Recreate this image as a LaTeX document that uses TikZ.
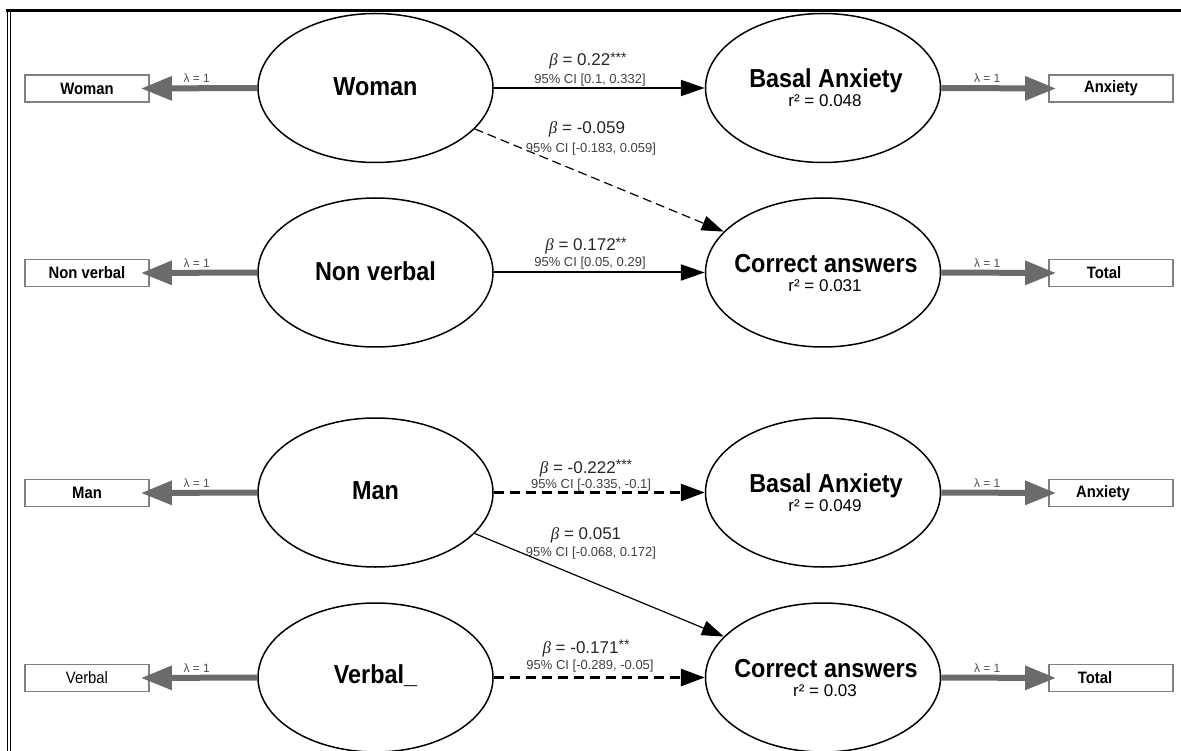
\documentclass[tikz,border=0pt]{standalone}
\usepackage{fontspec}
\setmainfont{Liberation Sans}
\newfontfamily\serifgreek{Liberation Serif}
\newfontfamily\cond[FakeStretch=0.9]{Liberation Sans}
\usetikzlibrary{arrows.meta,shapes.geometric,calc}
\definecolor{arrowgray}{HTML}{6B6B6B}
\definecolor{boxgray}{HTML}{808080}
\definecolor{lamgray}{HTML}{505050}
\definecolor{cigray}{HTML}{404040}
\newcommand\bet{{\serifgreek\itshape β}}
\newcommand\stars[1]{{\fontsize{14}{14}\selectfont\raisebox{3.5pt}{#1}}}
\begin{document}
\begin{tikzpicture}[x=1pt,y=-1pt,
  lat/.style={ellipse, draw=black, line width=1.5pt, minimum width=235pt, minimum height=149pt, inner sep=0pt},
  obs/.style={rectangle, draw=boxgray, line width=1.8pt, fill=white, minimum width=124pt, minimum height=27pt, inner sep=0pt, font=\cond\fontsize{16.5}{16.5}\selectfont\bfseries},
  obsreg/.style={obs, font=\cond\fontsize{16.5}{16.5}\selectfont},
  garrow/.style={draw=arrowgray, line width=6pt, -{Triangle[length=31pt,width=23pt]}},
  lam/.style={font=\fontsize{12}{12}\selectfont, text=lamgray, inner sep=0pt},
  ttlL/.style={font=\cond\fontsize{26}{26}\selectfont\bfseries, anchor=base, inner sep=0pt},
  ttlR/.style={font=\cond\fontsize{26}{26}\selectfont\bfseries, anchor=base, inner sep=0pt},
  rsq/.style={font=\fontsize{17}{17}\selectfont, anchor=base, inner sep=0pt},
  betalab/.style={font=\fontsize{17}{17}\selectfont, anchor=base, inner sep=0pt, text=black!85},
  cilab/.style={font=\fontsize{13}{13}\selectfont, anchor=base, inner sep=0pt, text=cigray},
  spath/.style={line width=2pt, -{Triangle[length=24pt,width=16pt]}},
  thindash/.style={line width=1.2pt, dash pattern=on 9pt off 5pt, -{Triangle[length=22pt,width=15pt]}},
  thickdash/.style={line width=2.8pt, dash pattern=on 10pt off 6pt, -{Triangle[length=24pt,width=17pt]}},
  thinsolid/.style={line width=1.2pt, -{Triangle[length=22pt,width=15pt]}}
]
\useasboundingbox (0,0) rectangle (1181,751);

% frame
\draw[line width=3pt] (6,11) -- (1181,11);
\draw[line width=1pt] (7.5,11) -- (7.5,751);
\draw[line width=1pt] (10.5,11) -- (10.5,751);

% latent ellipses
\node[lat] (W)   at (375.5,88) {};
\node[lat] (NV)  at (375.5,272.5) {};
\node[lat] (M)   at (375.5,492.5) {};
\node[lat] (V)   at (375.5,677.5) {};
\node[lat] (BA1) at (823,88) {};
\node[lat] (CA1) at (823,272.5) {};
\node[lat] (BA2) at (823,492.5) {};
\node[lat] (CA2) at (823,677.5) {};

% texts in ellipses
\node[ttlL] (Wt)  at ($(W)+(0,8)$) {Woman};
\node[ttlL] (NVt) at ($(NV)+(0,8)$) {Non verbal};
\node[ttlL] (Mt)  at ($(M)+(0,7)$) {Man};
\node[ttlL] (Vt)  at ($(V)+(0,6)$) {Verbal\_};
\node[ttlR] (BA1t) at ($(BA1)+(3,0)$) {Basal Anxiety};
\node[rsq]  (BA1r) at ($(BA1)+(2,19)$) {r² = 0.048};
\node[ttlR] (CA1t) at ($(CA1)+(3,0)$) {Correct answers};
\node[rsq]  (CA1r) at ($(CA1)+(2,19)$) {r² = 0.031};
\node[ttlR] (BA2t) at ($(BA2)+(3,0)$) {Basal Anxiety};
\node[rsq]  (BA2r) at ($(BA2)+(2,19)$) {r² = 0.049};
\node[ttlR] (CA2t) at ($(CA2)+(3,0)$) {Correct answers};
\node[rsq]  (CA2r) at ($(CA2)+(2,19)$) {r² = 0.03};

% observed boxes
\node[obs] (bW)  at (87,88.5) {Woman};
\node[obs] (bNV) at (87,273) {Non verbal};
\node[obs] (bM)  at (87,493) {Man};
\node[obsreg] (bV) at (87,678) {Verbal};
\node[obs] (bA1) at (1111,88.5) {Anxiety};
\node[obs] (bT1) at (1111,273) {Total\hspace*{14pt}};
\node[obs] (bA2) at (1111,493) {Anxiety\hspace*{16pt}};
\node[obs] (bT2) at (1111,678) {Total\hspace*{32pt}};

% loadings
\draw[garrow] (W.west) -- node[lam, pos=0.52, above=2.5pt] {λ = 1} ([xshift=-9pt]bW.east);
\draw[garrow] (NV.west) -- node[lam, pos=0.52, above=2.5pt] {λ = 1} ([xshift=-9pt]bNV.east);
\draw[garrow] (M.west) -- node[lam, pos=0.52, above=2.5pt] {λ = 1} ([xshift=-9pt]bM.east);
\draw[garrow] (V.west) -- node[lam, pos=0.52, above=2.5pt] {λ = 1} ([xshift=-9pt]bV.east);
\draw[garrow] (BA1.east) -- node[lam, pos=0.4, above=2.5pt] {λ = 1} ([xshift=8pt]bA1.west);
\draw[garrow] (CA1.east) -- node[lam, pos=0.4, above=2.5pt] {λ = 1} ([xshift=8pt]bT1.west);
\draw[garrow] (BA2.east) -- node[lam, pos=0.4, above=2.5pt] {λ = 1} ([xshift=8pt]bA2.west);
\draw[garrow] (CA2.east) -- node[lam, pos=0.4, above=2.5pt] {λ = 1} ([xshift=8pt]bT2.west);

% structural paths
\draw[spath] (W.east) -- (BA1.west);
\draw[thindash] (W) -- (CA1);
\draw[spath] (NV.east) -- (CA1.west);
\draw[thickdash] (M.east) -- (BA2.west);
\draw[thinsolid] (M) -- (CA2);
\draw[thickdash] (V.east) -- (CA2.west);

% path labels
\node[betalab] (l1b) at (588,66) {\bet{} = 0.22\stars{***}};
\node[cilab]   (l1c) at (590,84) {95\% CI [0.1, 0.332]};
\node[betalab] (l2b) at (587,134) {\bet{} = -0.059};
\node[cilab]   (l2c) at (591,152.5) {95\% CI [-0.183, 0.059]};
\node[betalab] (l3b) at (586,251) {\bet{} = 0.172\stars{**}};
\node[cilab]   (l3c) at (590,266.5) {95\% CI [0.05, 0.29]};
\node[betalab] (l4b) at (586,473) {\bet{} = -0.222\stars{***}};
\node[cilab]   (l4c) at (591,488.5) {95\% CI [-0.335, -0.1]};
\node[betalab] (l5b) at (586,539) {\bet{} = 0.051};
\node[cilab]   (l5c) at (591,556.5) {95\% CI [-0.068, 0.172]};
\node[betalab] (l6b) at (586,653) {\bet{} = -0.171\stars{**}};
\node[cilab]   (l6c) at (590,669.5) {95\% CI [-0.289, -0.05]};
\end{tikzpicture}
\end{document}
